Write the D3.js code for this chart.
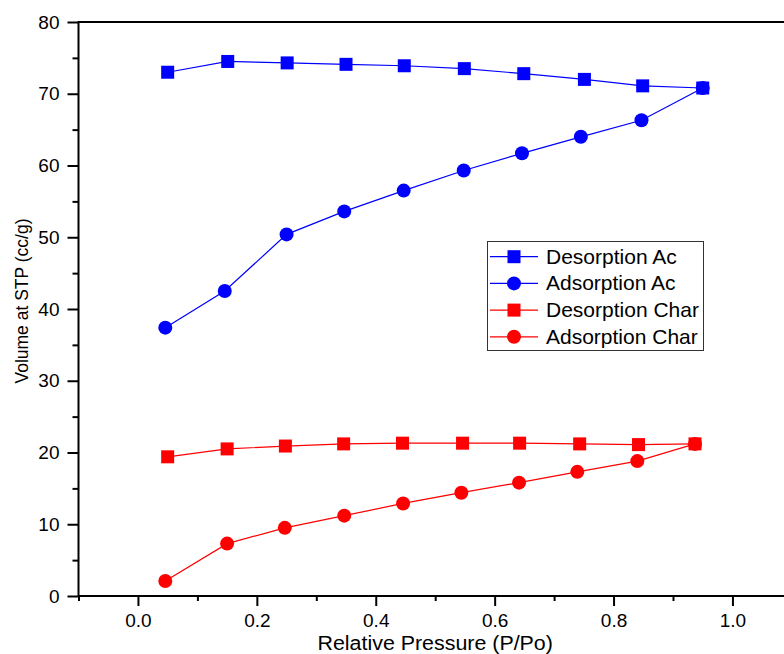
<!DOCTYPE html>
<html>
<head>
<meta charset="utf-8">
<script src="https://cdn.jsdelivr.net/npm/d3@7"></script>
<style>
  html, body { margin: 0; padding: 0; background: #fff; }
  svg { display: block; font-family: "Liberation Sans", Arial, sans-serif; }
</style>
</head>
<body>
<svg id="chart" width="784" height="654"></svg>
<script>
// ---- data ----
const seriesNames = ["Desorption Ac", "Adsorption Ac", "Desorption Char", "Adsorption Char"];
const seriesColors = ["#0000ff", "#0000ff", "#ff0000", "#ff0000"];
const seriesShapes = ["square", "circle", "square", "circle"];

const desAcX = [0.050, 0.151, 0.251, 0.350, 0.448, 0.549, 0.649, 0.751, 0.849, 0.950];
const desAcY = [73.0, 74.5, 74.3, 74.1, 73.9, 73.5, 72.8, 72.0, 71.1, 70.8];

const adsAcX = [0.046, 0.146, 0.250, 0.347, 0.447, 0.548, 0.646, 0.745, 0.847, 0.950];
const adsAcY = [37.4, 42.5, 50.4, 53.6, 56.5, 59.3, 61.7, 64.0, 66.3, 70.8];

const desChX = [0.050, 0.150, 0.248, 0.346, 0.445, 0.546, 0.642, 0.743, 0.842, 0.937];
const desChY = [19.4, 20.5, 20.9, 21.2, 21.3, 21.3, 21.3, 21.2, 21.1, 21.2];

const adsChX = [0.046, 0.150, 0.247, 0.347, 0.446, 0.544, 0.641, 0.739, 0.840, 0.937];
const adsChY = [2.1, 7.3, 9.5, 11.2, 12.9, 14.4, 15.8, 17.3, 18.8, 21.2];

const xMajorTicks = [0.0, 0.2, 0.4, 0.6, 0.8, 1.0];
const xMinorTicks = [-0.1, 0.1, 0.3, 0.5, 0.7, 0.9, 1.1];
const yMajorTicks = [0, 10, 20, 30, 40, 50, 60, 70, 80];
const yMinorTicks = [5, 15, 25, 35, 45, 55, 65, 75];

const xTitle = "Relative Pressure (P/Po)";
const yTitle = "Volume at STP (cc/g)";

const seriesX = [desAcX, adsAcX, desChX, adsChX];
const seriesY = [desAcY, adsAcY, desChY, adsChY];

(function () {
const svg = d3.select("#chart");
const W = 784;
const pL = 78.5, pT = 22, pB = 596;
const unit = 594.5; // px per 1.0 on x
const x = d3.scaleLinear().domain([-0.1, 1.1]).range([pL, pL + unit * 1.2]);
const y = d3.scaleLinear().domain([0, 80]).range([pB, pT]);

const FS = 19;

svg.append("defs").append("clipPath").attr("id", "plotclip")
  .append("rect").attr("x", pL).attr("y", pT - 10).attr("width", W - pL).attr("height", pB - pT + 20);

const series = seriesNames.map((name, i) => ({
  name, color: seriesColors[i], shape: seriesShapes[i],
  pts: seriesX[i].map((xv, j) => ({ x: xv, y: seriesY[i][j] }))
}));

const g = svg.append("g").attr("clip-path", "url(#plotclip)");
const line = d3.line().x(d => x(d.x)).y(d => y(d.y));

const SQ = 13, CR = 7;
function drawMarker(sel, shape, color, cx, cy) {
  if (shape === "square") {
    sel.append("rect").attr("x", cx - SQ / 2).attr("y", cy - SQ / 2)
      .attr("width", SQ).attr("height", SQ).attr("fill", color);
  } else {
    sel.append("circle").attr("cx", cx).attr("cy", cy).attr("r", CR).attr("fill", color);
  }
}

series.forEach(s => {
  g.append("path").datum(s.pts).attr("d", line)
    .attr("fill", "none").attr("stroke", s.color).attr("stroke-width", 1.2);
});
series.forEach(s => {
  const mg = g.append("g");
  s.pts.forEach(p => drawMarker(mg, s.shape, s.color, x(p.x), y(p.y)));
});

const xAxisMajor = d3.axisBottom(x).tickValues(xMajorTicks).tickFormat(d3.format(".1f"))
  .tickSizeInner(10).tickSizeOuter(0).tickPadding(8);
const xAxisMinor = d3.axisBottom(x).tickValues(xMinorTicks).tickFormat("")
  .tickSizeInner(5).tickSizeOuter(0);
const yAxisMajor = d3.axisLeft(y).tickValues(yMajorTicks).tickFormat(d3.format("d"))
  .tickSizeInner(11).tickSizeOuter(0).tickPadding(8);
const yAxisMinor = d3.axisLeft(y).tickValues(yMinorTicks).tickFormat("")
  .tickSizeInner(6).tickSizeOuter(0);

function styleAxis(sel) {
  sel.selectAll(".domain").remove();
  sel.selectAll(".tick line").attr("stroke", "#000").attr("stroke-width", 2);
  sel.selectAll(".tick text").attr("fill", "#000").style("font-size", FS + "px")
    .style("font-family", "'Liberation Sans', Arial, sans-serif");
}

svg.append("g").attr("transform", `translate(0,${pB})`).call(xAxisMajor).call(styleAxis);
svg.append("g").attr("transform", `translate(0,${pB})`).call(xAxisMinor).call(styleAxis);
svg.append("g").attr("transform", `translate(${pL},0)`).call(yAxisMajor).call(styleAxis);
svg.append("g").attr("transform", `translate(${pL},0)`).call(yAxisMinor).call(styleAxis);

svg.append("line").attr("x1", pL).attr("x2", W).attr("y1", pB).attr("y2", pB)
  .attr("stroke", "#000").attr("stroke-width", 2);
svg.append("line").attr("x1", pL).attr("x2", W).attr("y1", pT).attr("y2", pT)
  .attr("stroke", "#000").attr("stroke-width", 2);
svg.append("line").attr("x1", pL).attr("x2", pL).attr("y1", pT - 1).attr("y2", pB + 1)
  .attr("stroke", "#000").attr("stroke-width", 2);

svg.append("text").attr("transform", `translate(${x(0.5)},649.5) scale(1.07,1)`)
  .attr("text-anchor", "middle").style("font-size", "20px").text(xTitle);
svg.append("text").attr("transform", `translate(27.5,${(pT + pB) / 2 - 8}) rotate(-90)`)
  .attr("text-anchor", "middle").style("font-size", "17.5px").text(yTitle);

const lg = svg.append("g");
lg.append("rect").attr("x", 487.5).attr("y", 241.5).attr("width", 216).attr("height", 109)
  .attr("fill", "#fff").attr("stroke", "#333").attr("stroke-width", 1);
series.forEach((s, i) => {
  const cy = 256.7 + i * 26.7;
  lg.append("line").attr("x1", 490).attr("x2", 538).attr("y1", cy).attr("y2", cy)
    .attr("stroke", s.color).attr("stroke-width", 1.2);
  drawMarker(lg, s.shape, s.color, 514, cy);
  lg.append("text").attr("x", 546).attr("y", cy + 7).style("font-size", "21px").text(s.name);
});
})();
</script>
</body>
</html>
